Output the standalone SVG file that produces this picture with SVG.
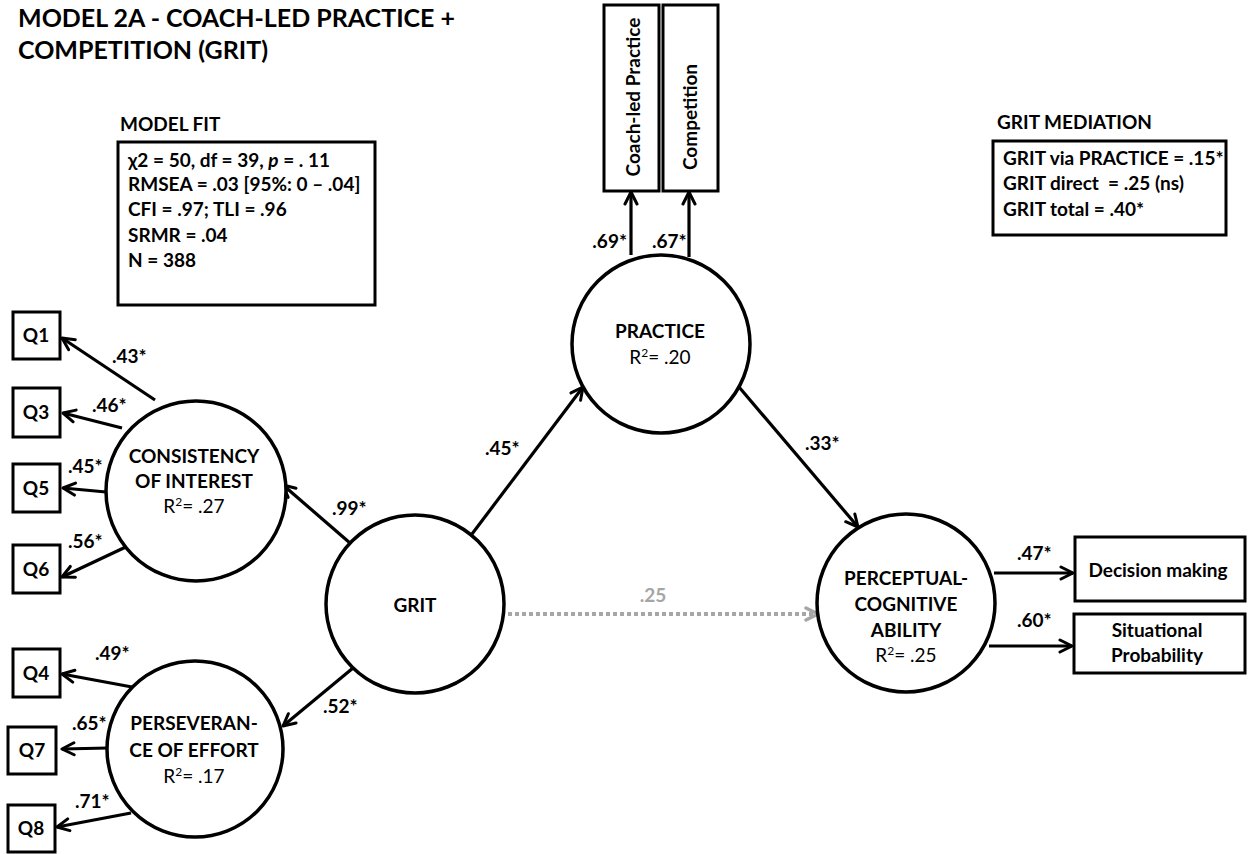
<svg xmlns="http://www.w3.org/2000/svg" width="1248" height="854" viewBox="0 0 1248 854">
  <style>
    text { font-family: Lato, "Liberation Sans", sans-serif; fill: #000; white-space: pre; }
    .b { font-weight: bold; font-size: 19px; }
    .r { font-weight: normal; font-size: 19px; }
    .title { font-weight: bold; font-size: 25px; }
    .mid { text-anchor: middle; }
    .lat { fill: #fff; stroke: #000; stroke-width: 3.5; }
    .obs { fill: #fff; stroke: #000; stroke-width: 3; }
    .edge { fill: none; stroke: #000; stroke-width: 3.2; marker-end: url(#arr); }
    .ns { fill: none; stroke: #a6a6a6; stroke-width: 4; stroke-dasharray: 4 3; marker-end: url(#arrg); }
    .gray { fill: #a6a6a6; }
  </style>
  <defs>
    <marker id="arr" viewBox="0 0 16 16" refX="14" refY="8" markerWidth="16" markerHeight="16" markerUnits="userSpaceOnUse" orient="auto">
      <path d="M2,2 L14,8 L2,14" fill="none" stroke="#000" stroke-width="3" stroke-linecap="round" stroke-linejoin="round"/>
    </marker>
    <marker id="arrg" viewBox="0 0 16 16" refX="14" refY="8" markerWidth="16" markerHeight="16" markerUnits="userSpaceOnUse" orient="auto">
      <path d="M2,2 L14,8 L2,14" fill="none" stroke="#a6a6a6" stroke-width="3.5" stroke-linecap="round" stroke-linejoin="round"/>
    </marker>
  </defs>
  <rect width="1248" height="854" fill="#fff"/>

  <!-- title -->
  <text class="title" x="18" y="27">MODEL 2A - COACH-LED PRACTICE +</text>
  <text class="title" x="18" y="59">COMPETITION (GRIT)</text>

  <!-- fit indices -->
  <g id="model-fit">
    <text class="b" x="120" y="131">MODEL FIT</text>
    <rect class="obs" x="118" y="142" width="257" height="163"/>
    <text class="b" x="128" y="167">χ2 = 50, df = 39, <tspan font-style="italic">p</tspan> = . 11</text>
    <text class="b" x="128" y="191">RMSEA = .03 [95%: 0 – .04]</text>
    <text class="b" x="128" y="216">CFI = .97; TLI = .96</text>
    <text class="b" x="128" y="242">SRMR = .04</text>
    <text class="b" x="128" y="267">N = 388</text>
  </g>

  <!-- mediation summary -->
  <g id="grit-mediation">
    <text class="b" x="997" y="129">GRIT MEDIATION</text>
    <rect class="obs" x="993" y="141" width="233" height="94"/>
    <text class="b" x="1003" y="165">GRIT via PRACTICE = .15*</text>
    <text class="b" x="1003" y="190" xml:space="preserve">GRIT direct  = .25 (ns)</text>
    <text class="b" x="1003" y="216">GRIT total = .40*</text>
  </g>

  <!-- paths -->
  <g id="connectors">
    <line class="edge" x1="631" y1="255" x2="631" y2="192"/>
    <line class="edge" x1="689" y1="257" x2="689" y2="192"/>
    <line class="edge" x1="472" y1="534" x2="583" y2="387"/>
    <line class="edge" x1="739" y1="387" x2="858" y2="527"/>
    <line class="edge" x1="350" y1="543" x2="283" y2="485"/>
    <line class="edge" x1="353" y1="668" x2="283" y2="726"/>
    <line class="ns" x1="508" y1="614" x2="818" y2="614"/>
    <line class="edge" x1="994" y1="573" x2="1073" y2="573"/>
    <line class="edge" x1="989" y1="646" x2="1072" y2="646"/>
    <line class="edge" x1="155" y1="400" x2="62" y2="338"/>
    <line class="edge" x1="122" y1="428" x2="63" y2="413"/>
    <line class="edge" x1="106" y1="492" x2="63" y2="488"/>
    <line class="edge" x1="130" y1="545" x2="62" y2="577"/>
    <line class="edge" x1="132" y1="687" x2="62" y2="674"/>
    <line class="edge" x1="108" y1="748" x2="62" y2="749"/>
    <line class="edge" x1="131" y1="813" x2="57" y2="827"/>
  </g>

  <!-- path coefficients -->
  <g id="coefficients">
    <text class="b" x="627" y="248" text-anchor="end">.69*</text>
    <text class="b" x="652" y="248">.67*</text>
    <text class="b" x="485" y="455">.45*</text>
    <text class="b" x="805" y="450">.33*</text>
    <text class="b" x="332" y="515">.99*</text>
    <text class="b" x="323" y="713">.52*</text>
    <text class="b gray" x="653" y="602" text-anchor="middle">.25</text>
    <text class="b" x="1017" y="560">.47*</text>
    <text class="b" x="1017" y="627">.60*</text>
    <text class="b" x="112" y="363">.43*</text>
    <text class="b" x="92" y="412">.46*</text>
    <text class="b" x="68" y="473">.45*</text>
    <text class="b" x="68" y="548">.56*</text>
    <text class="b" x="95" y="660">.49*</text>
    <text class="b" x="72" y="730">.65*</text>
    <text class="b" x="75" y="808">.71*</text>
  </g>

  <!-- observed indicators of practice -->
  <g id="coach-led-practice">
    <rect class="obs" x="604" y="5" width="55" height="186"/>
    <text class="b mid" transform="translate(640,97) rotate(-90)">Coach-led Practice</text>
  </g>
  <g id="competition">
    <rect class="obs" x="663" y="5" width="55" height="186"/>
    <text class="b mid" transform="translate(697,117) rotate(-90)">Competition</text>
  </g>

  <!-- latent variables -->
  <g id="practice">
    <circle class="lat" cx="661" cy="344" r="89"/>
    <text class="b mid" x="660" y="338">PRACTICE</text>
    <text class="r mid" x="660" y="364">R<tspan font-size="12" dy="-7">2</tspan><tspan dy="7">= .20</tspan></text>
  </g>
  <g id="grit">
    <circle class="lat" cx="415" cy="604" r="89"/>
    <text class="b mid" x="415" y="612">GRIT</text>
  </g>
  <g id="perceptual-cognitive">
    <circle class="lat" cx="906" cy="603" r="89"/>
    <text class="b mid" x="906" y="585">PERCEPTUAL-</text>
    <text class="b mid" x="906" y="611">COGNITIVE</text>
    <text class="b mid" x="906" y="637">ABILITY</text>
    <text class="r mid" x="906" y="662">R<tspan font-size="12" dy="-7">2</tspan><tspan dy="7">= .25</tspan></text>
  </g>
  <g id="consistency">
    <circle class="lat" cx="196" cy="491" r="90"/>
    <text class="b mid" x="194" y="463">CONSISTENCY</text>
    <text class="b mid" x="194" y="488">OF INTEREST</text>
    <text class="r mid" x="194" y="513">R<tspan font-size="12" dy="-7">2</tspan><tspan dy="7">= .27</tspan></text>
  </g>
  <g id="perseverance">
    <circle class="lat" cx="195" cy="749" r="88"/>
    <text class="b mid" x="194" y="730">PERSEVERAN-</text>
    <text class="b mid" x="194" y="757">CE OF EFFORT</text>
    <text class="r mid" x="194" y="783">R<tspan font-size="12" dy="-7">2</tspan><tspan dy="7">= .17</tspan></text>
  </g>

  <!-- outcome indicators -->
  <g id="decision-making">
    <rect class="obs" x="1075" y="537" width="170" height="64"/>
    <text class="b mid" x="1158" y="577">Decision making</text>
  </g>
  <g id="situational-probability">
    <rect class="obs" x="1074" y="614" width="171" height="59"/>
    <text class="b mid" x="1157" y="637">Situational</text>
    <text class="b mid" x="1157" y="662">Probability</text>
  </g>

  <!-- grit items -->
  <g id="q1"><rect class="obs" x="13" y="312" width="47" height="47"/><text class="b mid" x="36" y="342">Q1</text></g>
  <g id="q3"><rect class="obs" x="13" y="388" width="47" height="49"/><text class="b mid" x="36" y="419">Q3</text></g>
  <g id="q5"><rect class="obs" x="13" y="464" width="47" height="48"/><text class="b mid" x="36" y="495">Q5</text></g>
  <g id="q6"><rect class="obs" x="13" y="545" width="47" height="48"/><text class="b mid" x="36" y="576">Q6</text></g>
  <g id="q4"><rect class="obs" x="13" y="649" width="47" height="48"/><text class="b mid" x="36" y="680">Q4</text></g>
  <g id="q7"><rect class="obs" x="8" y="727" width="48" height="47"/><text class="b mid" x="32" y="757">Q7</text></g>
  <g id="q8"><rect class="obs" x="8" y="805" width="47" height="47"/><text class="b mid" x="31" y="835">Q8</text></g>
</svg>
